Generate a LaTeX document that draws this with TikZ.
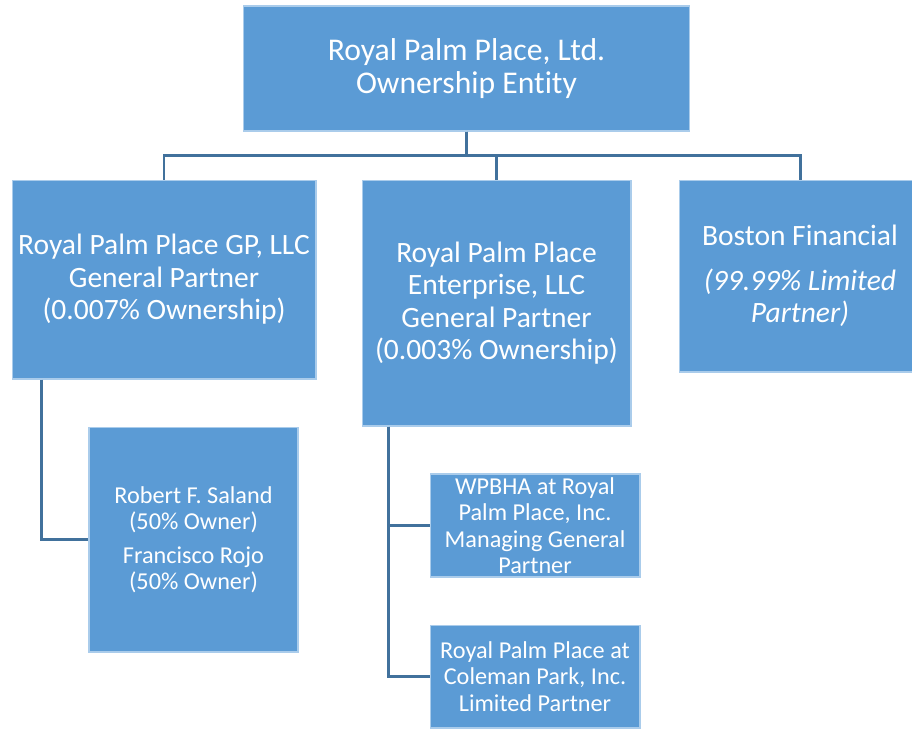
\documentclass[tikz,border=0pt]{standalone}
\usepackage{fontspec}
\setmainfont{Carlito}[Ligatures=NoCommon]
\usepackage{xcolor}
\usetikzlibrary{positioning}
\definecolor{boxblue}{RGB}{91,155,213}
\definecolor{linkblue}{RGB}{65,113,156}
\definecolor{edgeblue}{RGB}{170,204,235}

\begin{document}
\begin{tikzpicture}[x=0.02cm, y=-0.02cm,
    entity/.style={draw=edgeblue, line width=0.6pt, fill=boxblue, text=white,
        align=center, inner sep=0pt},
    toptext/.style={font=\fontsize{18}{18.8}\selectfont},
    bigtext/.style={font=\fontsize{16.8}{18.5}\selectfont},
    smalltext/.style={font=\fontsize{13.8}{15}\selectfont},
    link/.style={linkblue, line width=1.7pt}]
    \useasboundingbox (0,0) rectangle (912,728);

    % ownership entity
    \node[entity, toptext, minimum width=8.94cm, minimum height=2.5cm] (owner) at (466.5,68.5)
        {Royal Palm Place, Ltd.\\Ownership Entity};

    % partners
    \node[entity, bigtext, minimum width=6.08cm, minimum height=3.98cm] (gp) at (164,279.5)
        {Royal Palm Place GP, LLC\\General Partner\\(0.007\% Ownership)};
    \node[entity, bigtext, minimum width=5.38cm, minimum height=4.92cm] (ent) at (496.5,303)
        {Royal Palm Place\\Enterprise, LLC\\General Partner\\(0.003\% Ownership)};
    \node[entity, bigtext, minimum width=4.84cm, minimum height=3.84cm] (boston) at (800,276)
        {Boston Financial\\[0.4em]\itshape (99.99\% Limited\\\itshape Partner)};

    % owners of the partners
    \node[entity, smalltext, minimum width=4.18cm, minimum height=4.5cm] (owners) at (193.5,539.5)
        {Robert F. Saland\\(50\% Owner)\\[0.3em]Francisco Rojo\\(50\% Owner)};
    \node[entity, smalltext, minimum width=4.2cm, minimum height=2.06cm] (wpbha) at (535,525.5)
        {WPBHA at Royal\\Palm Place, Inc.\\Managing General\\Partner};
    \node[entity, smalltext, minimum width=4.2cm, minimum height=2.06cm] (coleman) at (535,676.5)
        {Royal Palm Place at\\Coleman Park, Inc.\\Limited Partner};

    % connectors
    \draw[link] (owner.south) -- ++(0,24) -| (gp.north);
    \draw[link] (owner.south) -- ++(0,24) -| (ent.north);
    \draw[link] (owner.south) -- ++(0,24) -| (boston.north);
    \draw[link] (gp.south west) ++(30,0) |- (owners.west);
    \draw[link] (ent.south west) ++(27,0) |- (wpbha.west);
    \draw[link] (ent.south west) ++(27,0) |- (coleman.west);
\end{tikzpicture}
\end{document}
